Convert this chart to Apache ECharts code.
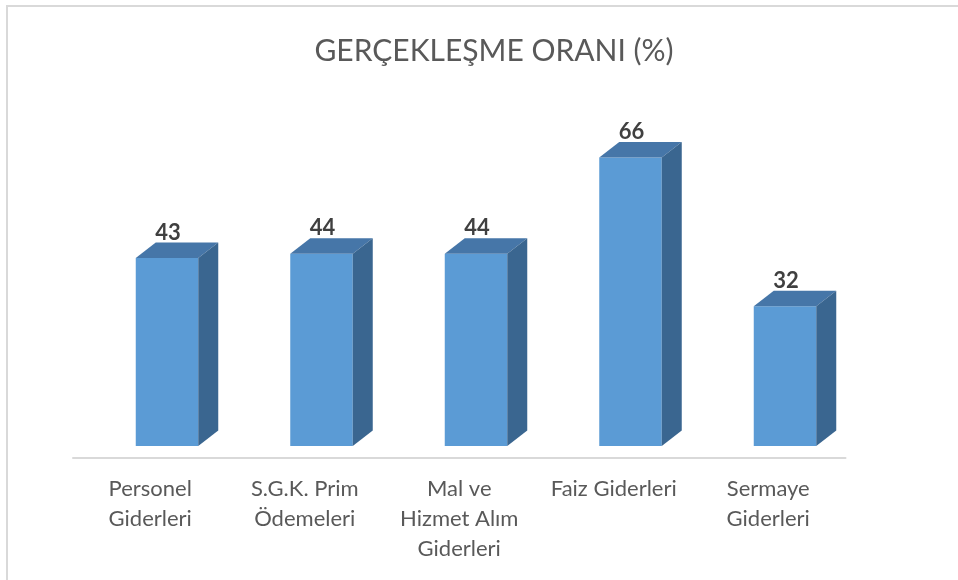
<!DOCTYPE html>
<html><head><meta charset="utf-8">
<script src="https://cdn.jsdelivr.net/npm/echarts@6/dist/echarts.min.js"></script>
<style>html,body{margin:0;padding:0;background:#fff}#c{width:958px;height:580px}</style>
</head><body><div id="c"></div>
<script>
const titleText = 'GERÇEKLEŞME ORANI (%)';
const categories = ['Personel\nGiderleri', 'S.G.K. Prim\nÖdemeleri', 'Mal ve\nHizmet Alım\nGiderleri', 'Faiz Giderleri', 'Sermaye\nGiderleri'];
const values = [43, 44, 44, 66, 32];

const chart = echarts.init(document.getElementById('c'), null, {renderer: 'canvas'});

function renderItem(params, api) {
  const idx = api.value(0);
  const v = api.value(1);
  const base = api.coord([idx, 0]);
  const top = api.coord([idx, v]);
  const cx = base[0];
  const lift = 12;
  const x0 = cx - 14.5, w = 62.5, dx = 20, dy = 15.5;
  const yb = base[1] - lift, yt = top[1] - lift;
  return {
    type: 'group',
    children: [
      {type: 'rect', shape: {x: x0, y: yt, width: w, height: yb - yt}, style: {fill: '#5B9BD5'}},
      {type: 'polygon', shape: {points: [[x0, yt], [x0 + w, yt], [x0 + w + dx, yt - dy], [x0 + dx, yt - dy]]}, style: {fill: '#4676A8'}},
      {type: 'polygon', shape: {points: [[x0 + w, yt], [x0 + w + dx, yt - dy], [x0 + w + dx, yb - dy], [x0 + w, yb]]}, style: {fill: '#3A6690'}},
      {type: 'text', x: x0 + w / 2 + 1, y: yt - dy + 1,
        style: {text: String(v), align: 'center', verticalAlign: 'bottom', textAlign: 'center', textVerticalAlign: 'bottom',
          font: 'bold 22px Lato', fill: '#404040'}}
    ]
  };
}

chart.setOption({
  animation: false,
  backgroundColor: '#fff',
  graphic: [{type: 'rect', z: -1, shape: {x: 7, y: 6, width: 1000, height: 1000}, style: {fill: 'none', stroke: '#d9d9d9', lineWidth: 2}}],
  title: {
    text: titleText, left: 489, top: 31, textAlign: 'center',
    textStyle: {fontFamily: 'Lato', fontWeight: 'normal', fontSize: 30, color: '#595959'}
  },
  grid: {left: 73, right: 112.5, top: 108.4, bottom: 122},
  xAxis: {
    type: 'category', data: categories,
    axisTick: {show: false},
    axisLine: {lineStyle: {color: '#d9d9d9', width: 2}},
    axisLabel: {fontFamily: 'Lato', fontSize: 22, color: '#595959', lineHeight: 30, margin: 16, interval: 0, align: 'center'}
  },
  yAxis: {type: 'value', min: 0, max: 80, show: false, splitLine: {show: false}},
  series: [{
    type: 'custom',
    renderItem: renderItem,
    encode: {x: 0, y: 1},
    data: values.map((v, i) => [i, v])
  }]
});
</script></body></html>
